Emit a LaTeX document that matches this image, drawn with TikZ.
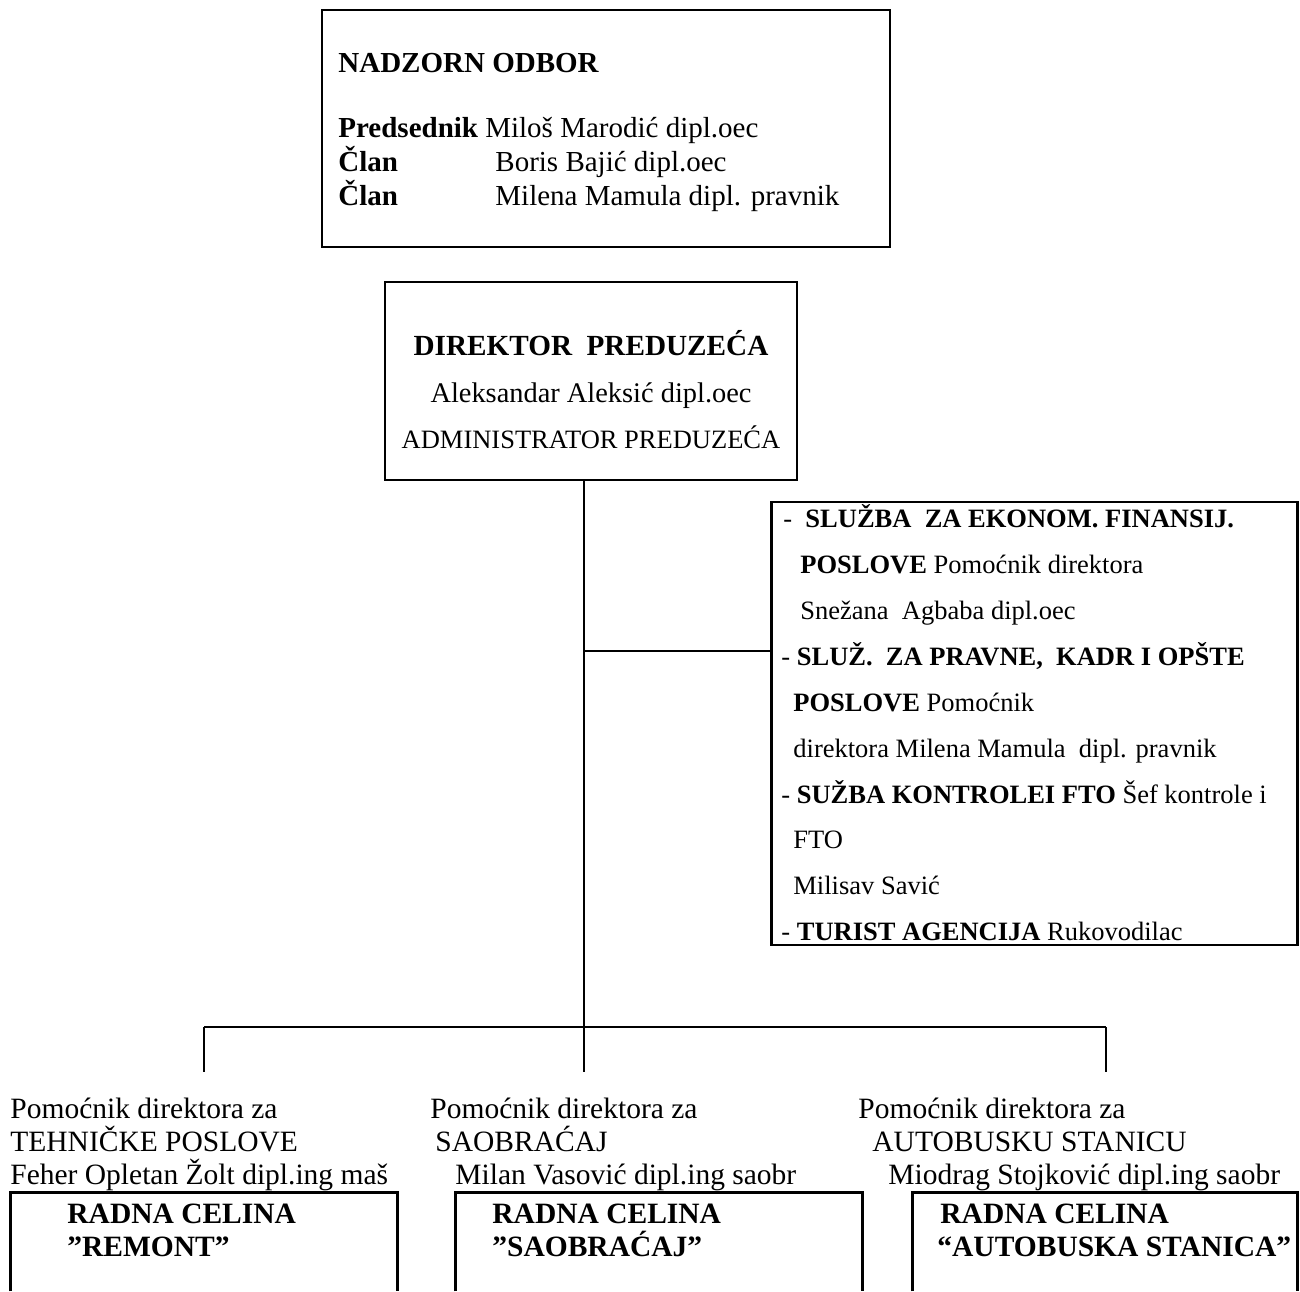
\documentclass[tikz,border=0pt]{standalone}
\usepackage{fontspec}
\setmainfont{Liberation Serif}
\begin{document}
\begin{tikzpicture}[x=0.5pt,y=-0.5pt,
  conn/.style={line width=1.2pt},
  box/.style={draw, line width=1.3pt, rectangle, inner sep=0pt},
  hollow/.style={rectangle, inner sep=0pt},
  txt/.style={anchor=base west, inner sep=0pt},
  fA/.style={font=\fontsize{14.5}{17}\selectfont},
  fT/.style={font=\fontsize{14.6}{17}\selectfont},
  fB/.style={font=\fontsize{13.25}{16}\selectfont},
  fC/.style={font=\fontsize{14.75}{17}\selectfont},
  fD/.style={font=\fontsize{14.2}{17}\selectfont},
]
\useasboundingbox (0,0) rectangle (1300,1291);

% ---------- boxes ----------
\node[box, minimum width=284pt, minimum height=118.5pt] (nadzor) at (606,128.5) {};
\node[box, minimum width=206pt, minimum height=99pt] (dir) at (591,381) {};
\node[box, minimum width=263pt, minimum height=221.5pt] (rbox) at (1034.5,723.5) {};
\node[hollow, minimum width=193pt, minimum height=49pt] (b1) at (204,1242) {};
\node[hollow, minimum width=203pt, minimum height=49pt] (b2) at (659,1242) {};
\node[hollow, minimum width=192pt, minimum height=49pt] (b3) at (1105,1242) {};
\draw[line width=1.3pt] (b1.south west) |- (b1.north east) -- (b1.south east);
\draw[line width=1.3pt] (b2.south west) |- (b2.north east) -- (b2.south east);
\draw[line width=1.3pt] (b3.south west) |- (b3.north east) -- (b3.south east);

% ---------- NADZORN ODBOR ----------
\node[txt, fA] (n1) at (338,72) {\textbf{NADZORN ODBOR}};
\node[txt, fA] (n2) at (338,137) {\textbf{Predsednik} Miloš Marodić dipl.oec};
\node[txt, fA] (n3) at (338,171) {\textbf{Član}};
\node[txt, fA] (n3b) at (495,171) {Boris Bajić dipl.oec};
\node[txt, fA] (n4) at (338,205) {\textbf{Član}};
\node[txt, fA] (n4b) at (495,205) {Milena Mamula dipl. pravnik};

% ---------- DIREKTOR ----------
\node[anchor=base, inner sep=0pt, fT] (d1) at (591,355) {\textbf{DIREKTOR\ \ PREDUZEĆA}};
\node[anchor=base, inner sep=0pt, fD] (d2) at (591,402) {Aleksandar Aleksić dipl.oec};
\node[anchor=base, inner sep=0pt, fB] (d3) at (591,448) {ADMINISTRATOR PREDUZEĆA};

% ---------- right box ----------
\node[txt, fB] (r1) at (783,527) {-\ \ \textbf{SLUŽBA\ \ ZA EKONOM. FINANSIJ.}};
\node[txt, fB] (r2) at (800,573) {\textbf{POSLOVE} Pomoćnik direktora};
\node[txt, fB] (r3) at (800,619) {Snežana\ \ Agbaba dipl.oec};
\node[txt, fB] (r4) at (781,665) {- \textbf{SLUŽ.\ \ ZA PRAVNE,\ \ KADR I OPŠTE}};
\node[txt, fB] (r5) at (793,711) {\textbf{POSLOVE} Pomoćnik};
\node[txt, fB] (r6) at (793,757) {direktora Milena Mamula\ \ dipl. pravnik};
\node[txt, fB] (r7) at (781,803) {- \textbf{SUŽBA KONTROLEI FTO} Šef kontrole i};
\node[txt, fB] (r8) at (793,848) {FTO};
\node[txt, fB] (r9) at (793,894) {Milisav Savić};
\node[txt, fB] (r10) at (781,940) {- \textbf{TURIST AGENCIJA} Rukovodilac};

% ---------- bottom labels ----------
\node[txt, fC] (l1a) at (10,1118) {Pomoćnik direktora za};
\node[txt, fC] (l1b) at (10,1151) {TEHNIČKE POSLOVE};
\node[txt, fC] (l1c) at (10,1184) {Feher Opletan Žolt dipl.ing maš};
\node[txt, fC] (l2a) at (430,1118) {Pomoćnik direktora za};
\node[txt, fC] (l2b) at (435,1151) {SAOBRAĆAJ};
\node[txt, fC] (l2c) at (455,1184) {Milan Vasović dipl.ing saobr};
\node[txt, fC] (l3a) at (858,1118) {Pomoćnik direktora za};
\node[txt, fC] (l3b) at (872,1151) {AUTOBUSKU STANICU};
\node[txt, fC] (l3c) at (888,1184) {Miodrag Stojković dipl.ing saobr};

\node[txt, fC] (t1a) at (67,1223) {\textbf{RADNA CELINA}};
\node[txt, fC] (t1b) at (67,1256) {\textbf{”REMONT”}};
\node[txt, fC] (t2a) at (492,1223) {\textbf{RADNA CELINA}};
\node[txt, fC] (t2b) at (492,1256) {\textbf{”SAOBRAĆAJ”}};
\node[txt, fC] (t3a) at (940,1223) {\textbf{RADNA CELINA}};
\node[txt, fC] (t3b) at (937,1256) {\textbf{“AUTOBUSKA STANICA”}};

% ---------- connectors ----------
\coordinate (tj) at (584,651);
\coordinate (bj) at (584,1027);
\coordinate (bl) at (204,1027);
\coordinate (br) at (1106,1027);
\coordinate (e1) at (204,1072);
\coordinate (e2) at (584,1072);
\coordinate (e3) at (1106,1072);
\draw[conn] (dir.south -| tj) -- (bj);
\draw[conn] (tj) -- (tj -| rbox.west);
\draw[conn] (bl) -- (br);
\draw[conn] (bl) -- (e1);
\draw[conn] (bj) -- (e2);
\draw[conn] (br) -- (e3);
\end{tikzpicture}
\end{document}
